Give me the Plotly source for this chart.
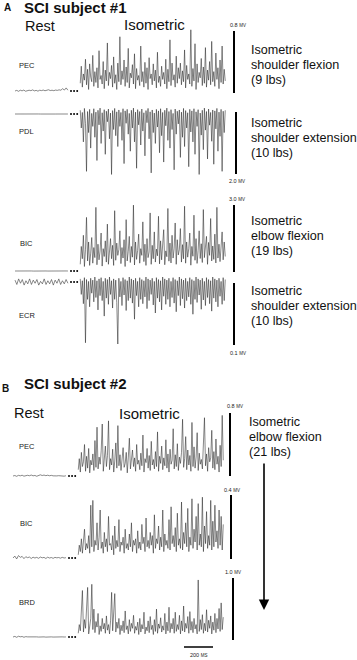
import numpy as np
import plotly.graph_objects as go

# ---------------- data (mV) ----------------
PEC_A_REST = [0.000, 0.008, -0.004, 0.010, 0.002, 0.012, -0.003, 0.006, 0.010, 0.004, 0.014, 0.002, 0.008, -0.002,
              0.010, 0.005, 0.012, 0.003, 0.009, 0.016, 0.006, 0.010, 0.004, 0.012, 0.008, 0.015, 0.010, 0.030,
              0.012, 0.040, 0.010]
PEC_A_ACTIVE = [0.10, 0.32, 0.05, 0.22, 0.14, 0.41, 0.08, 0.28, 0.02, 0.35,
                0.18, 0.12, 0.46, 0.06, 0.25, 0.11, 0.30, 0.04, 0.52, 0.15,
                0.20, 0.09, 0.38, 0.03, 0.27, 0.13, 0.62, 0.07, 0.24, 0.16,
                0.33, 0.05, 0.44, 0.10, 0.21, 0.02, 0.36, 0.12, 0.70, 0.08,
                0.26, 0.15, 0.40, 0.06, 0.31, 0.11, 0.55, 0.04, 0.23, 0.17,
                0.34, 0.09, 0.48, 0.03, 0.29, 0.14, 0.20, 0.07, 0.58, 0.12,
                0.25, 0.05, 0.37, 0.10, 0.30, 0.02, 0.43, 0.16, 0.22, 0.08,
                0.35, 0.13, 0.27, 0.04, 0.50, 0.11, 0.19, 0.06, 0.32, 0.15,
                0.24, 0.09, 0.41, 0.03, 0.28, 0.12, 0.66, 0.07, 0.36, 0.14,
                0.21, 0.05, 0.45, 0.10, 0.30, 0.16, 0.36, 0.08, 0.26, 0.12,
                0.53, 0.04, 0.33, 0.15, 0.22, 0.09, 0.79, 0.06, 0.29, 0.13,
                0.61, 0.02, 0.35, 0.11, 0.24, 0.17, 0.42, 0.07, 0.31, 0.10,
                0.56, 0.05, 0.27, 0.14, 0.38, 0.08, 0.64, 0.12, 0.25, 0.06,
                0.49, 0.15, 0.30, 0.03, 0.40, 0.11, 0.58, 0.09, 0.28, 0.13]

PDL_A_REST = [0.0, 0.002, -0.002, 0.001, 0.0, 0.002, -0.001, 0.001, 0.0, 0.002, -0.002, 0.001, 0.0, 0.001, -0.001,
              0.002, 0.0, 0.001, -0.002, 0.001, 0.0, 0.002, -0.001, 0.0, 0.001, -0.001, 0.002, 0.0, 0.001, 0.0]
PDL_A_ACTIVE = [0.12, -0.45, 0.05, -0.90, 0.18, -0.30, -1.85, 0.08, -0.60, 0.15,
                -1.10, 0.02, -0.40, 0.17, -0.75, 0.06, -1.50, 0.12, -0.35, 0.19,
                -0.95, 0.04, -0.55, 0.14, -1.30, 0.09, -0.25, 0.16, -0.80, 0.03,
                -1.95, 0.11, -0.50, 0.18, -0.70, 0.07, -1.05, 0.13, -0.40, 0.05,
                -0.85, 0.17, -1.60, 0.10, -0.30, 0.15, -0.65, 0.02, -1.20, 0.12,
                -0.45, 0.19, -0.90, 0.06, -1.75, 0.14, -0.35, 0.08, -1.00, 0.16,
                -0.55, 0.04, -1.35, 0.11, -0.28, 0.18, -0.80, 0.07, -1.90, 0.13,
                -0.60, 0.03, -0.95, 0.15, -0.42, 0.10, -1.25, 0.17, -0.70, 0.05,
                -1.55, 0.12, -0.38, 0.19, -0.85, 0.08, -1.10, 0.14, -0.50, 0.02,
                -1.80, 0.16, -0.65, 0.09, -0.32, 0.13, -1.40, 0.06, -0.75, 0.18,
                -1.05, 0.11, -0.45, 0.04, -1.70, 0.15, -0.58, 0.10, -0.90, 0.17,
                -1.30, 0.07, -0.40, 0.14, -1.95, 0.03, -0.68, 0.12, -1.15, 0.19,
                -0.52, 0.08, -1.45, 0.16, -0.36, 0.05, -0.88, 0.13, -1.62, 0.10,
                -0.48, 0.18, -1.20, 0.06, -0.72, 0.15, -1.85, 0.09, -0.60, 0.12]

BIC_A_REST = [0.0, 0.003, -0.002, 0.002, 0.0, 0.003, -0.002, 0.001, 0.0, 0.002, -0.003, 0.002, 0.0, 0.002, -0.001,
              0.003, 0.0, 0.001, -0.002, 0.002, 0.0, 0.003, -0.001, 0.0, 0.002, -0.002, 0.003, 0.0, 0.002, 0.0]
BIC_A_ACTIVE = [0.30, 1.10, 0.55, 1.60, 0.20, 0.95, 2.40, 0.45, 1.30, 0.25,
                0.80, 1.50, 0.35, 1.05, 0.60, 2.85, 0.28, 1.20, 0.50, 0.90,
                1.70, 0.22, 1.00, 0.65, 1.35, 0.40, 2.10, 0.30, 0.85, 1.45,
                0.55, 1.15, 0.25, 2.70, 0.48, 1.25, 0.70, 0.95, 1.80, 0.33,
                1.05, 0.58, 1.40, 0.20, 2.30, 0.45, 0.88, 1.55, 0.38, 1.10,
                0.62, 2.95, 0.27, 1.30, 0.52, 0.92, 1.65, 0.35, 1.00, 0.70,
                2.20, 0.42, 1.20, 0.25, 1.45, 0.60, 0.85, 2.60, 0.30, 1.15,
                0.55, 1.75, 0.40, 0.98, 0.68, 2.45, 0.32, 1.35, 0.50, 1.05,
                1.85, 0.28, 0.90, 0.64, 2.80, 0.44, 1.25, 0.36, 1.60, 0.58,
                1.00, 2.15, 0.30, 1.40, 0.72, 0.95, 1.90, 0.40, 1.18, 0.55,
                2.90, 0.35, 1.30, 0.62, 1.00, 1.70, 0.26, 1.10, 0.66, 2.50,
                0.48, 1.45, 0.34, 0.92, 1.80, 0.56, 1.22, 0.38, 2.75, 0.60,
                1.05, 1.55, 0.30, 1.28, 0.70, 2.35, 0.45, 1.12, 0.52, 1.65,
                0.36, 2.85, 0.58, 1.20, 0.42, 1.00, 1.75, 0.50, 1.30, 0.65]

ECR_A_REST = [0.003, -0.004, 0.005, -0.002, 0.004, -0.005, 0.002, -0.003, 0.005, -0.004, 0.003, -0.002, 0.004,
              -0.005, 0.001, -0.003, 0.005, -0.004, 0.002, -0.003, 0.004, -0.005, 0.003, -0.002, 0.005, -0.004,
              0.002, -0.003, 0.004, -0.002]
ECR_A_ACTIVE = [0.005, -0.020, 0.002, -0.035, 0.007, -0.098, 0.004, -0.028, 0.001, -0.040,
                0.006, -0.018, 0.003, -0.032, 0.008, -0.025, 0.002, -0.045, 0.005, -0.022,
                0.007, -0.030, 0.001, -0.055, 0.006, -0.026, 0.004, -0.036, 0.008, -0.020,
                0.002, -0.042, 0.005, -0.028, 0.003, -0.033, -0.100, 0.006, -0.024, 0.001,
                -0.038, 0.007, -0.021, 0.004, -0.046, 0.002, -0.030, 0.008, -0.026, 0.005,
                -0.034, 0.003, -0.060, 0.006, -0.022, 0.001, -0.040, 0.007, -0.028, 0.004,
                -0.035, 0.002, -0.024, 0.008, -0.043, 0.005, -0.030, 0.003, -0.020, 0.006,
                -0.037, 0.001, -0.050, 0.007, -0.026, 0.004, -0.032, 0.002, -0.045, 0.008,
                -0.023, 0.005, -0.036, 0.003, -0.028, 0.006, -0.040, 0.001, -0.025, 0.007,
                -0.034, 0.004, -0.048, 0.002, -0.022, 0.008, -0.038, 0.005, -0.027, 0.003,
                -0.042, 0.006, -0.030, 0.001, -0.024, 0.007, -0.036, 0.004, -0.052, 0.002,
                -0.028, 0.008, -0.033, 0.005, -0.021, 0.003, -0.044, 0.006, -0.029, 0.001,
                -0.038, 0.007, -0.025, 0.004, -0.035, 0.002, -0.047, 0.008, -0.026, 0.005,
                -0.032, 0.003, -0.040, 0.006, -0.023, 0.001, -0.036, 0.007, -0.030, 0.004]

PEC_B_REST = [0.0, 0.006, -0.004, 0.008, 0.002, 0.010, -0.002, 0.005, 0.009, 0.003, 0.012, 0.002, 0.007, -0.003,
              0.010, 0.015, 0.006, 0.012, 0.004, 0.010, 0.003, 0.008, 0.002, 0.006, 0.001, 0.004, 0.0, 0.005,
              -0.002, 0.003]
PEC_B_ACTIVE = [0.08, 0.22, 0.05, 0.30, 0.12, 0.18, 0.40, 0.06, 0.25, 0.10,
                0.35, 0.04, 0.20, 0.14, 0.28, 0.07, 0.45, 0.11, 0.62, 0.09,
                0.24, 0.15, 0.32, 0.66, 0.06, 0.20, 0.38, 0.12, 0.26, 0.70,
                0.08, 0.22, 0.14, 0.34, 0.05, 0.19, 0.42, 0.10, 0.64, 0.13,
                0.27, 0.07, 0.21, 0.36, 0.11, 0.16, 0.30, 0.04, 0.24, 0.48,
                0.09, 0.18, 0.33, 0.12, 0.23, 0.06, 0.40, 0.15, 0.20, 0.08,
                0.29, 0.13, 0.52, 0.05, 0.22, 0.17, 0.35, 0.10, 0.26, 0.07,
                0.44, 0.14, 0.21, 0.09, 0.31, 0.12, 0.56, 0.06, 0.25, 0.16,
                0.38, 0.08, 0.23, 0.13, 0.46, 0.10, 0.28, 0.05, 0.34, 0.15,
                0.20, 0.60, 0.09, 0.27, 0.12, 0.41, 0.07, 0.24, 0.16, 0.30,
                0.72, 0.11, 0.22, 0.50, 0.08, 0.33, 0.14, 0.26, 0.06, 0.68,
                0.12, 0.37, 0.10, 0.24, 0.55, 0.07, 0.29, 0.15, 0.21, 0.09,
                0.44, 0.74, 0.13, 0.28, 0.06, 0.36, 0.18, 0.23, 0.58, 0.10,
                0.31, 0.08, 0.47, 0.15, 0.25, 0.05, 0.39, 0.12, 0.77, 0.20]

BIC_B_REST = [0.0, 0.012, -0.006, 0.015, 0.004, 0.010, -0.004, 0.008, 0.002, 0.006, -0.003, 0.005, 0.0, 0.004,
              -0.002, 0.006, 0.001, 0.004, -0.003, 0.005, 0.0, 0.003, -0.002, 0.004, 0.001, 0.003, -0.001, 0.004,
              0.0, 0.002]
BIC_B_ACTIVE = [0.02, 0.08, 0.04, 0.12, 0.03, 0.10, 0.18, 0.05, 0.09, 0.06,
                0.14, 0.03, 0.33, 0.07, 0.36, 0.04, 0.11, 0.08, 0.22, 0.05,
                0.13, 0.30, 0.06, 0.10, 0.03, 0.16, 0.07, 0.12, 0.04, 0.26,
                0.08, 0.09, 0.05, 0.14, 0.02, 0.20, 0.06, 0.11, 0.07, 0.24,
                0.04, 0.10, 0.08, 0.13, 0.03, 0.18, 0.06, 0.09, 0.05, 0.15,
                0.07, 0.22, 0.04, 0.11, 0.08, 0.12, 0.03, 0.17, 0.06, 0.10,
                0.05, 0.21, 0.09, 0.13, 0.04, 0.25, 0.07, 0.11, 0.06, 0.16,
                0.08, 0.14, 0.03, 0.27, 0.06, 0.12, 0.09, 0.20, 0.05, 0.13,
                0.07, 0.30, 0.04, 0.15, 0.08, 0.11, 0.06, 0.24, 0.05, 0.32,
                0.09, 0.14, 0.07, 0.19, 0.04, 0.28, 0.08, 0.12, 0.06, 0.35,
                0.05, 0.16, 0.09, 0.22, 0.07, 0.31, 0.04, 0.13, 0.08, 0.37,
                0.06, 0.18, 0.10, 0.26, 0.05, 0.34, 0.08, 0.15, 0.07, 0.38,
                0.04, 0.20, 0.09, 0.29, 0.06, 0.14, 0.08, 0.36, 0.05, 0.23,
                0.07, 0.33, 0.10, 0.17, 0.06, 0.30, 0.08, 0.26, 0.05, 0.21]

BRD_B_REST = [0.0, 0.010, -0.005, 0.012, 0.003, 0.008, -0.004, 0.006, 0.002, 0.004, -0.002, 0.003, 0.0, 0.002,
              -0.001, 0.003, 0.0, 0.002, -0.002, 0.003, 0.0, 0.002, -0.001, 0.002, 0.0, 0.001, -0.001, 0.002, 0.0,
              0.001]
BRD_B_ACTIVE = [0.06, 0.20, 0.10, 0.35, 0.75, 0.08, 0.28, 0.14, 0.40, 0.80,
                0.05, 0.22, 0.30, 0.85, 0.12, 0.45, 0.07, 0.25, 0.16, 0.38,
                0.04, 0.18, 0.09, 0.30, 0.13, 0.22, 0.06, 0.34, 0.11, 0.20,
                0.05, 0.27, 0.72, 0.10, 0.36, 0.70, 0.08, 0.24, 0.14, 0.30,
                0.04, 0.19, 0.10, 0.26, 0.07, 0.42, 0.12, 0.18, 0.05, 0.28,
                0.09, 0.22, 0.14, 0.35, 0.06, 0.17, 0.11, 0.24, 0.04, 0.30,
                0.08, 0.20, 0.13, 0.40, 0.05, 0.16, 0.10, 0.26, 0.07, 0.33,
                0.12, 0.19, 0.04, 0.28, 0.09, 0.45, 0.06, 0.21, 0.14, 0.31,
                0.08, 0.18, 0.11, 0.38, 0.05, 0.24, 0.10, 0.48, 0.07, 0.22,
                0.13, 0.30, 0.06, 0.40, 0.09, 0.20, 0.12, 0.35, 0.05, 0.26,
                0.10, 0.50, 0.08, 0.22, 0.14, 0.33, 0.06, 0.41, 0.11, 0.25,
                0.07, 0.30, 0.13, 0.20, 0.05, 0.92, 0.09, 0.28, 0.12, 0.36,
                0.06, 0.22, 0.10, 0.44, 0.08, 0.27, 0.14, 0.34, 0.05, 0.24,
                0.11, 0.38, 0.07, 0.30, 0.13, 0.46, 0.09, 0.55, 0.12, 0.32]

MUSCLES = ["PEC", "PDL", "BIC", "ECR", "PEC", "BIC", "BRD"]
SCALE_MV = [0.8, 2.0, 3.0, 0.1, 0.8, 0.4, 1.0]
SCALE_LABELS = ["0.8", "2.0", "3.0", "0.1", "0.8", "0.4", "1.0"]
TASKS_A = [["Isometric", "shoulder flexion", "(9 lbs)"],
           ["Isometric", "shoulder extension", "(10 lbs)"],
           ["Isometric", "elbow flexion", "(19 lbs)"],
           ["Isometric", "shoulder extension", "(10 lbs)"]]
TASK_B = ["Isometric", "elbow flexion", "(21 lbs)"]
REST_MS = (0, 365)
ACTIVE_MS = (450, 1450)
TIME_BAR_MS = 200

# ---------------- layout geometry ----------------
W, H = 357, 660
PX_PER_MS = 0.145
FONT = "Liberation Sans, Arial, Helvetica, sans-serif"
TRACE_COLOR = "rgba(40,40,40,0.85)"
REST_COLOR = "rgba(70,70,70,0.8)"

rows = [
    dict(panel="A", rest=PEC_A_REST, act=PEC_A_ACTIVE, bar=(31, 93), base=91, bx=234, lab=(17, 66), mvl=(238, 25)),
    dict(panel="A", rest=PDL_A_REST, act=PDL_A_ACTIVE, bar=(112, 174), base=114, bx=236, lab=(17, 132), mvl=(237, 181)),
    dict(panel="A", rest=BIC_A_REST, act=BIC_A_ACTIVE, bar=(205, 272), base=271, bx=234, lab=(18, 244), mvl=(237, 199)),
    dict(panel="A", rest=ECR_A_REST, act=ECR_A_ACTIVE, bar=(283, 345), base=282, bx=234, lab=(17, 315), mvl=(238, 353)),
    dict(panel="B", rest=PEC_B_REST, act=PEC_B_ACTIVE, bar=(413, 476), base=476, bx=230, lab=(17, 446), mvl=(235, 406)),
    dict(panel="B", rest=BIC_B_REST, act=BIC_B_ACTIVE, bar=(495, 559), base=558, bx=231, lab=(18, 523), mvl=(232, 490)),
    dict(panel="B", rest=BRD_B_REST, act=BRD_B_ACTIVE, bar=(578, 640), base=637, bx=233, lab=(17, 602), mvl=(233, 572)),
]
X_OFFSET = {"A": 15, "B": 13}
XAX = {"A": "x", "B": "x2"}


def py(p):
    return 1 - p / H


fig = go.Figure()
layout_axes = {}
annotations = []

for i, r in enumerate(rows):
    yname = "y" if i == 0 else f"y{i + 1}"
    ykey = "yaxis" if i == 0 else f"yaxis{i + 1}"
    top, bot = r["bar"]
    s = (bot - top) / SCALE_MV[i]  # px per mV
    vals = list(r["rest"]) + list(r["act"])
    dtop = min(top, r["base"] - max(vals) * s) - 4
    dbot = max(bot, r["base"] - min(vals) * s) + 4
    layout_axes[ykey] = dict(domain=[py(dbot), py(dtop)], range=[(r["base"] - dbot) / s, (r["base"] - dtop) / s],
                             anchor=XAX[r["panel"]], visible=False, fixedrange=True)
    xa = XAX[r["panel"]]
    off = X_OFFSET[r["panel"]]
    t_rest = np.linspace(REST_MS[0], REST_MS[1], len(r["rest"]))
    t_act = np.linspace(ACTIVE_MS[0], ACTIVE_MS[1], len(r["act"]))
    fig.add_trace(go.Scatter(x=t_rest, y=r["rest"], mode="lines", xaxis=xa, yaxis=yname,
                             line=dict(color=REST_COLOR, width=0.8), hoverinfo="skip", showlegend=False))
    fig.add_trace(go.Scatter(x=t_act, y=r["act"], mode="lines", xaxis=xa, yaxis=yname,
                             line=dict(color=TRACE_COLOR, width=0.65), hoverinfo="skip", showlegend=False))
    gap = np.linspace(REST_MS[1], ACTIVE_MS[0], 5)[1:-1]
    fig.add_trace(go.Scatter(x=gap, y=[0] * len(gap), mode="markers", xaxis=xa, yaxis=yname,
                             marker=dict(color="black", size=2), hoverinfo="skip", showlegend=False))
    # amplitude scale bar
    bar_t = (r["bx"] - off) / PX_PER_MS
    y0 = (r["base"] - bot) / s
    fig.add_trace(go.Scatter(x=[bar_t, bar_t], y=[y0, y0 + SCALE_MV[i]], mode="lines", xaxis=xa, yaxis=yname,
                             line=dict(color="black", width=2), hoverinfo="skip", showlegend=False))
    # labels
    annotations.append(dict(x=r["lab"][0] / W, y=py(r["lab"][1]), text=MUSCLES[i], xanchor="left",
                            yanchor="middle", font=dict(size=7.5, color="#222")))
    annotations.append(dict(x=r["mvl"][0] / W, y=py(r["mvl"][1]),
                            text=f"{SCALE_LABELS[i]} <span style='font-size:4.5px'>MV</span>",
                            xanchor="center", yanchor="middle", font=dict(size=5.5, color="#222")))

for k in ("x", "x2"):
    off = X_OFFSET["A" if k == "x" else "B"]
    key = "xaxis" if k == "x" else "xaxis2"
    layout_axes[key] = dict(domain=[0, 1], range=[-off / PX_PER_MS, (W - off) / PX_PER_MS],
                            visible=False, fixedrange=True, anchor="y" if k == "x" else "y5")

# right-side task descriptions
desc_y = [[50, 64.5, 79.5], [123, 137.5, 152.5], [220.5, 235.5, 251], [291, 306, 321]]
for lines, ys in zip(TASKS_A, desc_y):
    for txt, yy in zip(lines, ys):
        annotations.append(dict(x=249 / W, y=py(yy), text=txt, xanchor="left", yanchor="middle",
                                font=dict(size=12.6, color="#111")))
for txt, yy in zip(TASK_B, [422, 437, 452]):
    annotations.append(dict(x=247 / W, y=py(yy), text=txt, xanchor="left", yanchor="middle",
                            font=dict(size=12.6, color="#111")))

# headers
annotations += [
    dict(x=2 / W, y=py(8), text="<b>A</b>", xanchor="left", yanchor="middle", font=dict(size=10, color="#111")),
    dict(x=22 / W, y=py(8), text="<b>SCI subject #1</b>", xanchor="left", yanchor="middle",
         font=dict(size=15, color="#111")),
    dict(x=23 / W, y=py(26), text="Rest", xanchor="left", yanchor="middle", font=dict(size=14.5, color="#111")),
    dict(x=122 / W, y=py(25), text="Isometric", xanchor="left", yanchor="middle", font=dict(size=15, color="#111")),
    dict(x=0 / W, y=py(388), text="<b>B</b>", xanchor="left", yanchor="middle", font=dict(size=10, color="#111")),
    dict(x=22 / W, y=py(383), text="<b>SCI subject #2</b>", xanchor="left", yanchor="middle",
         font=dict(size=15, color="#111")),
    dict(x=12 / W, y=py(413), text="Rest", xanchor="left", yanchor="middle", font=dict(size=14.5, color="#111")),
    dict(x=117 / W, y=py(413), text="Isometric", xanchor="left", yanchor="middle", font=dict(size=15, color="#111")),
    dict(x=198 / W, y=py(655), text="200 <span style='font-size:4.5px'>MS</span>", xanchor="center",
         yanchor="middle", font=dict(size=5.5, color="#222")),
    # downward arrow
    dict(x=264 / W, y=py(610), ax=0, ay=-(610 - 462), text="", showarrow=True, arrowhead=2, arrowsize=1.3,
         arrowwidth=1.6, arrowcolor="black", standoff=0),
]

for a in annotations:
    a.setdefault("showarrow", False)
    a.setdefault("xref", "paper")
    a.setdefault("yref", "paper")

# 200 ms time bar
t0 = (184 - X_OFFSET["B"]) / PX_PER_MS
shapes = [dict(type="line", xref="x2", yref="paper", x0=t0, x1=t0 + TIME_BAR_MS, y0=py(647), y1=py(647),
               line=dict(color="black", width=1.5))]

fig.update_layout(width=W, height=H, margin=dict(l=0, r=0, t=0, b=0), paper_bgcolor="white",
                  plot_bgcolor="rgba(0,0,0,0)", font=dict(family=FONT), showlegend=False,
                  annotations=annotations, shapes=shapes, **layout_axes)

fig.write_html("out.html", config={"displayModeBar": False, "staticPlot": True})
